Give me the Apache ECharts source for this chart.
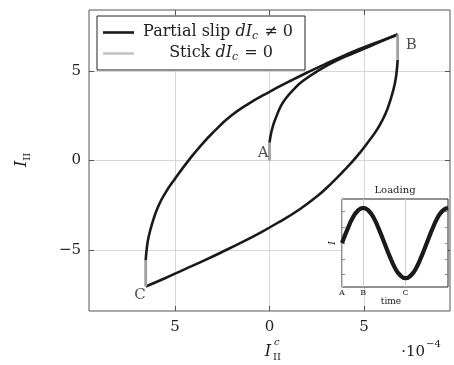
<!DOCTYPE html>
<html>
<head>
<meta charset="utf-8">
<script src="https://cdn.jsdelivr.net/npm/echarts@6/dist/echarts.min.js"></script>
<style>
  html, body { margin: 0; padding: 0; background: #fff; }
  #chart { width: 454px; height: 365px; }
</style>
</head>
<body>
<div id="chart"></div>
<script>
// Hysteresis of I_II versus I_II^c (x in units of 1e-4)
const xTicks = [-5, 0, 5];
const xTickLabels = ['5', '0', '5'];
const yTicks = [-5, 0, 5];
const yTickLabels = ['\u22125', '0', '5'];

// stick phases (dI_c = 0)
const stickA = [[0, 0], [0, 1.0]];
const stickB = [[6.78, 7.06], [6.78, 5.64]];
const stickC = [[-6.55, -7.06], [-6.55, -5.6]];

// partial slip phases (dI_c != 0)
const slipAB = [[0, 1.0], [0.08, 1.5], [0.2, 2.0], [0.35, 2.43], [0.6, 3.05], [0.88, 3.5],
  [1.3, 4.0], [1.76, 4.45], [2.64, 5.07], [3.52, 5.58], [4.4, 5.99], [5.28, 6.38],
  [6.0, 6.72], [6.78, 7.06]];
const slipBC = [[6.78, 5.64], [6.73, 5.0], [6.63, 4.3], [6.43, 3.5], [6.13, 2.6],
  [5.73, 1.8], [5.23, 1.05], [4.6, 0.2], [4.0, -0.5], [3.3, -1.25], [2.5, -2.02],
  [1.5, -2.8], [0.5, -3.45], [-0.5, -4.05], [-1.5, -4.6], [-2.5, -5.12], [-3.5, -5.62],
  [-4.5, -6.1], [-5.5, -6.58], [-6.55, -7.06]];
const slipCB = [[-6.55, -5.6], [-6.5, -5.0], [-6.4, -4.3], [-6.2, -3.5], [-5.9, -2.6],
  [-5.5, -1.8], [-5.0, -1.02], [-4.3, -0.02], [-3.6, 0.88], [-2.9, 1.66], [-2.1, 2.45],
  [-1.2, 3.12], [0, 3.85], [1.0, 4.4], [2.0, 4.93], [3.0, 5.43], [4.0, 5.9],
  [5.0, 6.34], [6.0, 6.74], [6.78, 7.06]];

// turning points
const turnNames = ['A', 'B', 'C'];
const turnPoints = [[0, 0], [6.78, 7.06], [-6.55, -7.06]];

// loading history shown in the inset
const loadTime = [0, 0.25, 0.5, 0.75, 1, 1.25, 1.5, 1.75, 2, 2.25, 2.5, 2.75, 3,
  3.25, 3.5, 3.75, 4, 4.25, 4.5, 4.75, 5];
const loadValue = [0, 0.38, 0.71, 0.92, 1, 0.92, 0.71, 0.38, 0, -0.38, -0.71, -0.92, -1,
  -0.92, -0.71, -0.38, 0, 0.38, 0.71, 0.92, 1];
const insetTicks = [0, 1, 3];
const insetTickLabels = ['A', 'B', 'C'];
const insetYTicks = [-0.9, -0.45, 0, 0.45, 0.9];

const SERIF = "'DejaVu Serif', 'Liberation Serif', serif";
const BLACK = '#1a1a1a';
const GREY = '#a0a0a0';
const GRID = '#d6d6d6';
const INK = '#222';

const chart = echarts.init(document.getElementById('chart'));

function frameTicks(values, len, color) {
  return { show: true, inside: true, length: len, customValues: values, lineStyle: { color: color } };
}

function sideAxis(extra) {
  return Object.assign({
    type: 'value',
    axisLine: { show: false, onZero: false },
    splitLine: { show: false },
    axisLabel: { show: false }
  }, extra);
}

const slipLine = { color: BLACK, width: 2.6 };
const stickLine = { color: GREY, width: 2.8 };
const legendRich = {
  n: { fontFamily: SERIF, fontSize: 16, fill: INK, lineHeight: 20 },
  i: { fontFamily: SERIF, fontSize: 16, fontStyle: 'italic', fill: INK, lineHeight: 20 },
  s: { fontFamily: SERIF, fontSize: 11, fontStyle: 'italic', fill: INK, lineHeight: 12, verticalAlign: 'bottom', padding: [0, 1, 0, 0] }
};

const option = {
  animation: false,
  grid: [
    { left: 89, top: 10, width: 361, height: 301, show: true, borderColor: '#555', borderWidth: 1, backgroundColor: 'transparent', z: 0 },
    { left: 342, top: 199, width: 106, height: 88, show: true, borderColor: INK, borderWidth: 1, backgroundColor: '#fff', z: 5 }
  ],
  xAxis: [
    sideAxis({
      gridIndex: 0, min: -9.55, max: 9.55, position: 'bottom',
      axisTick: frameTicks(xTicks, 5, '#555'),
      splitLine: { show: true, lineStyle: { color: GRID, width: 1 } },
      axisLabel: {
        show: true, customValues: xTicks, margin: 9,
        fontFamily: SERIF, fontSize: 15, color: INK,
        formatter: v => xTickLabels[xTicks.indexOf(v)]
      }
    }),
    sideAxis({
      gridIndex: 0, min: -9.55, max: 9.55, position: 'top',
      axisTick: frameTicks(xTicks, 5, '#555')
    }),
    sideAxis({
      gridIndex: 1, min: 0, max: 5, position: 'bottom', z: 5,
      axisTick: { show: false, customValues: insetTicks },
      splitLine: { show: true, lineStyle: { color: '#cfcfcf', width: 1 } },
      axisLabel: {
        show: true, customValues: insetTicks, margin: 2,
        fontFamily: SERIF, fontSize: 8, color: INK,
        formatter: v => insetTickLabels[insetTicks.indexOf(v)]
      }
    })
  ],
  yAxis: [
    sideAxis({
      gridIndex: 0, min: -8.43, max: 8.43, position: 'left',
      axisTick: frameTicks(yTicks, 5, '#555'),
      splitLine: { show: true, lineStyle: { color: GRID, width: 1 } },
      axisLabel: {
        show: true, customValues: yTicks, margin: 8,
        fontFamily: SERIF, fontSize: 15, color: INK,
        formatter: v => yTickLabels[yTicks.indexOf(v)]
      }
    }),
    sideAxis({
      gridIndex: 0, min: -8.43, max: 8.43, position: 'right',
      axisTick: frameTicks(yTicks, 5, '#555')
    }),
    sideAxis({
      gridIndex: 1, min: -1.25, max: 1.25, position: 'left', z: 5,
      axisTick: frameTicks(insetYTicks, 3, '#888')
    }),
    sideAxis({
      gridIndex: 1, min: -1.25, max: 1.25, position: 'right', z: 5,
      axisTick: frameTicks(insetYTicks, 3, '#888')
    })
  ],
  series: [
    { type: 'line', data: slipAB, smooth: 0.5, showSymbol: false, lineStyle: slipLine, z: 3 },
    { type: 'line', data: slipBC, smooth: 0.5, showSymbol: false, lineStyle: slipLine, z: 3 },
    { type: 'line', data: slipCB, smooth: 0.5, showSymbol: false, lineStyle: slipLine, z: 3 },
    { type: 'line', data: stickA, showSymbol: false, lineStyle: stickLine, z: 4 },
    { type: 'line', data: stickB, showSymbol: false, lineStyle: stickLine, z: 4 },
    { type: 'line', data: stickC, showSymbol: false, lineStyle: stickLine, z: 4 },
    {
      type: 'scatter', symbolSize: 0, z: 4,
      data: turnPoints.map((p, i) => ({
        value: p, name: turnNames[i],
        label: [
          { position: 'left', offset: [2, -7] },
          { position: 'right', offset: [5, 11] },
          { position: 'left', offset: [3, 9] }
        ][i]
      })),
      label: { show: true, formatter: '{b}', fontFamily: SERIF, fontSize: 15, color: INK, distance: 3 }
    },
    {
      type: 'line', xAxisIndex: 2, yAxisIndex: 2, z: 6,
      data: loadTime.map((t, i) => [t, loadValue[i]]),
      smooth: true, showSymbol: false, clip: false,
      lineStyle: { color: BLACK, width: 4.2 }
    }
  ],
  graphic: [
    // legend
    { type: 'rect', shape: { x: 97, y: 16, width: 208, height: 54 }, style: { fill: '#fff', stroke: INK, lineWidth: 1 }, z: 20 },
    { type: 'line', shape: { x1: 103, y1: 32.5, x2: 134, y2: 32.5 }, style: { stroke: BLACK, lineWidth: 2.6 }, z: 21 },
    { type: 'line', shape: { x1: 103, y1: 53.5, x2: 134, y2: 53.5 }, style: { stroke: '#c4c4c4', lineWidth: 2.6 }, z: 21 },
    {
      type: 'text', x: 218, y: 32, z: 21,
      style: { text: '{n|Partial slip }{i|dI}{s|c}{n| \u2260 0}', align: 'center', verticalAlign: 'middle', rich: legendRich }
    },
    {
      type: 'text', x: 221, y: 53, z: 21,
      style: { text: '{n|Stick }{i|dI}{s|c}{n| = 0}', align: 'center', verticalAlign: 'middle', rich: legendRich }
    },
    // y-axis title
    {
      type: 'text', x: 22, y: 160, rotation: Math.PI / 2, z: 21,
      style: {
        text: '{i|I}{s|II}', align: 'center', verticalAlign: 'middle',
        rich: {
          i: { fontFamily: SERIF, fontSize: 16, fontStyle: 'italic', fill: INK, lineHeight: 20 },
          s: { fontFamily: SERIF, fontSize: 10, fill: INK, lineHeight: 12, verticalAlign: 'bottom' }
        }
      }
    },
    // x-axis title
    { type: 'text', x: 268, y: 352, z: 21, style: { text: 'I', font: 'italic 16px ' + SERIF, fill: INK, align: 'center', verticalAlign: 'middle' } },
    { type: 'text', x: 274, y: 342, z: 21, style: { text: 'c', font: 'italic 10px ' + SERIF, fill: INK, align: 'left', verticalAlign: 'middle' } },
    { type: 'text', x: 273, y: 357, z: 21, style: { text: 'II', font: '10px ' + SERIF, fill: INK, align: 'left', verticalAlign: 'middle' } },
    // scale factor
    { type: 'text', x: 425, y: 352, z: 21, style: { text: '\u00b710', font: '15px ' + SERIF, fill: INK, align: 'right', verticalAlign: 'middle' } },
    { type: 'text', x: 426, y: 344, z: 21, style: { text: '\u22124', font: '10px ' + SERIF, fill: INK, align: 'left', verticalAlign: 'middle' } },
    // inset texts
    { type: 'text', x: 395, y: 190, z: 21, style: { text: 'Loading', font: '10px ' + SERIF, fill: INK, align: 'center', verticalAlign: 'middle' } },
    { type: 'text', x: 391, y: 302, z: 21, style: { text: 'time', font: '9px ' + SERIF, fill: INK, align: 'center', verticalAlign: 'middle' } },
    { type: 'text', x: 333, y: 243, rotation: Math.PI / 2, z: 21, style: { text: 'I', font: 'italic 9px ' + SERIF, fill: INK, align: 'center', verticalAlign: 'middle' } }
  ]
};

chart.setOption(option);
</script>
</body>
</html>
